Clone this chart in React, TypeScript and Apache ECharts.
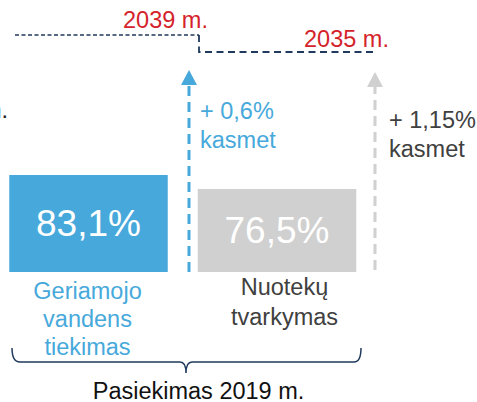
import React, { useEffect, useRef } from "react";
import * as echarts from "echarts";

const categories = ["Geriamojo\nvandens\ntiekimas", "Nuotekų\ntvarkymas"];
const values = [83.1, 76.5];
const growthLabels = ["+ 0,6%\nkasmet", "+ 1,15%\nkasmet"];
const targetYears = ["2039 m.", "2035 m."];
const footLabel = "Pasiekimas 2019 m.";
const leftCut = "m.";

const BLUE = "#47a9db";
const GRAY = "#d0d0d0";
const RED = "#d5232b";
const DARK = "#404040";
const NAVY = "#1f3a5c";
const FONT = '"Liberation Sans", Arial, Helvetica, sans-serif';
const FS = 23.5;

echarts.graphic.registerShape(
  "brace",
  echarts.graphic.extendPath(
    "M12,348 Q12,362 20,362 L180,362 Q186,362 186,373 Q186,362 192,362 L354,362 Q361,362 361,348",
    {}
  )
);

function txt(text: string, x: number, y: number, fill: string, align = "center", size = FS) {
  return {
    type: "text",
    x,
    y,
    silent: true,
    style: { text, fill, fontSize: size, fontFamily: FONT, align, verticalAlign: "middle" },
  };
}

function lines(text: string, x: number, y: number, lh: number, fill: string, align = "center") {
  return text.split("\n").map((t, i) => txt(t, x, y + i * lh, fill, align));
}

function arrow(x: number, tip: number, bottom: number, color: string) {
  return [
    {
      type: "line",
      silent: true,
      shape: { x1: x, y1: bottom, x2: x, y2: tip + 14 },
      style: { stroke: color, lineWidth: 3, lineDash: [10, 6] },
    },
    {
      type: "polygon",
      silent: true,
      shape: { points: [[x, tip], [x - 8, tip + 15], [x + 8, tip + 15]] },
      style: { fill: color },
    },
  ];
}

export default function App() {
  const ref = useRef<HTMLDivElement>(null);
  useEffect(() => {
    if (!ref.current) return;
    const chart = echarts.init(ref.current, null, { renderer: "svg" });
    const colors = [BLUE, GRAY];
    const labelColors = [BLUE, DARK];
    const labelX = [87.5, 284.5];
    const labelY = [290.5, 287];
    const labelLH = [28, 29.5];
    const graphic: any[] = [
      {
        type: "polyline",
        silent: true,
        shape: { points: [[15, 35], [199, 35]] },
        style: { stroke: NAVY, lineWidth: 1.5, lineDash: [4, 2.5], fill: null },
      },
      {
        type: "polyline",
        silent: true,
        shape: { points: [[199, 35], [199, 52], [375, 52]] },
        style: { stroke: NAVY, lineWidth: 1.8, lineDash: [7, 4.5], fill: null },
      },
      ...arrow(189, 70, 272, BLUE),
      ...arrow(375, 72, 270, GRAY),
      txt(targetYears[0], 165.5, 19.5, RED),
      txt(targetYears[1], 346.5, 38.5, RED),
      txt(leftCut, 8, 109.6, "#1a1a1a", "right"),
      ...lines(growthLabels[0], 200, 111, 28.5, BLUE, "left"),
      ...lines(growthLabels[1], 389, 120, 28.5, DARK, "left"),
      ...categories.flatMap((c, i) => lines(c, labelX[i], labelY[i], labelLH[i], labelColors[i])),
      {
        type: "brace",
        x: 0,
        y: 0,
        silent: true,
        style: { stroke: NAVY, lineWidth: 1.5, fill: null },
      },
      txt(footLabel, 198.5, 390.5, "#111111"),
    ];
    chart.setOption({
      animation: false,
      backgroundColor: "#ffffff",
      grid: { left: 88.5, right: 200, top: 96.8, bottom: 130 },
      xAxis: {
        type: "category",
        data: categories,
        boundaryGap: false,
        show: false,
      },
      yAxis: {
        type: "value",
        min: 37.4,
        max: 120,
        show: false,
        splitLine: { show: false },
      },
      series: [
        {
          type: "bar",
          barWidth: 158.5,
          data: values.map((v, i) => ({ value: v, itemStyle: { color: colors[i] } })),
          label: {
            show: true,
            position: "inside",
            color: "#ffffff",
            fontSize: 37,
            fontFamily: FONT,
            formatter: (p: any) => String(p.value).replace(".", ",") + "%",
          },
        },
      ],
      graphic,
    });
    return () => chart.dispose();
  }, []);
  return (
    <div
      ref={ref}
      style={{ position: "fixed", left: 0, top: 0, width: 477, height: 402, background: "#fff" }}
    />
  );
}
